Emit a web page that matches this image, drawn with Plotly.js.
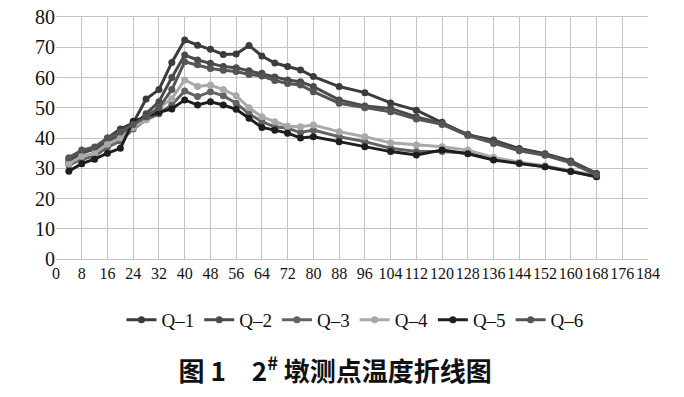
<!DOCTYPE html>
<html>
<head>
<meta charset="utf-8">
<script src="https://cdn.plot.ly/plotly-3.0.1.min.js"></script>
<style>
html,body{margin:0;padding:0;background:#fff;}
#chart{width:684px;height:397px;}
#chart .xtick text, #chart .ytick text, #chart .legendtext { font-family: 'Liberation Serif', 'Times New Roman', serif !important; }
</style>
</head>
<body>
<div id="chart"></div>
<script>
// Time (h)
const hours = [4,8,12,16,20,24,28,32,36,40,44,48,52,56,60,64,68,72,76,80,88,96,104,112,120,128,136,144,152,160,168];
const xTicks = [0,8,16,24,32,40,48,56,64,72,80,88,96,104,112,120,128,136,144,152,160,168,176,184];
const seriesNames = ['Q–1','Q–2','Q–3','Q–4','Q–5','Q–6'];

const q1 = [32.0,35.0,36.5,40.0,43.0,45.0,52.9,56.0,65.0,72.4,70.7,69.3,67.6,67.8,70.6,67.1,64.8,63.6,62.5,60.3,57.0,55.0,51.6,49.2,45.2,41.0,39.3,36.5,34.8,32.4,28.3];
const q2 = [33.0,35.5,36.0,39.0,41.0,44.0,48.0,52.0,60.0,67.4,65.8,64.7,63.6,63.2,62.2,61.4,60.2,59.2,58.6,57.0,52.6,50.6,49.8,47.0,44.8,41.2,38.8,36.2,34.5,32.2,28.2];
const q3 = [31.0,33.0,34.0,37.0,39.0,43.0,46.0,48.0,51.0,55.5,53.7,55.3,54.0,51.5,48.0,45.4,43.7,43.2,41.8,42.6,40.4,38.8,36.6,35.5,35.5,35.0,33.0,31.8,30.5,29.0,27.3];
const q4 = [31.5,34.0,35.0,38.0,40.0,43.5,46.0,50.0,53.0,59.2,57.0,57.5,56.0,54.0,50.0,47.0,45.4,43.9,43.7,44.3,42.1,40.4,38.4,37.7,37.1,36.0,33.6,32.0,30.8,29.2,27.5];
const q5 = [29.0,31.5,33.0,35.0,36.6,45.5,47.0,48.5,49.6,52.6,50.9,52.0,50.9,49.5,46.5,43.5,42.6,41.6,40.0,40.4,38.8,37.1,35.5,34.4,36.0,34.8,32.7,31.6,30.5,28.9,27.2];
const q6 = [33.5,36.0,37.0,40.0,42.0,44.5,47.0,50.0,56.0,65.2,64.2,63.0,62.4,62.0,61.0,60.5,59.0,58.0,57.5,55.3,51.5,50.0,48.7,46.3,44.5,40.8,38.2,35.8,34.3,31.8,27.8];

const seriesValues = [q1,q2,q3,q4,q5,q6];
const seriesColors = ['#3b3b3b','#4a4a4a','#636363','#a9a9a9','#1e1e1e','#555555'];

const SERIF = 'Liberation Serif';

const traces = seriesValues.map((v,i)=>({
  type:'scatter', mode:'lines+markers',
  x: hours, y: v, name: seriesNames[i],
  line:{color:seriesColors[i], width:3},
  marker:{color:seriesColors[i], size:7}
}));
const layout = {
  width:684, height:397,
  margin:{l:56, r:36, t:17, b:138},
  font:{family:SERIF, color:'#111'},
  legend:{orientation:'h', x:0.505, xanchor:'center', y:-0.252, yanchor:'middle',
          font:{family:SERIF, size:19, color:'#111'}},
  xaxis:{range:[0,184], tickmode:'array', tickvals:xTicks, ticktext:xTicks.map(String), tickangle:0,
         showline:true, mirror:true, linecolor:'#c4c4c4', gridcolor:'#c4c4c4', zeroline:false,
         ticks:'', tickfont:{family:SERIF, size:16, color:'#111'}},
  yaxis:{range:[0,80], dtick:10, ticks:'', gridcolor:'#c4c4c4', zeroline:false,
         tickfont:{family:SERIF, size:20, color:'#111'}},
  title:{text:'图 1　2<sup>#</sup> 墩测点温度折线图', x:0.49, xanchor:'center', y:0.063, yanchor:'middle',
         font:{family:'Noto Sans CJK SC', size:26, weight:700, color:'#111'}}
};
Plotly.newPlot('chart', traces, layout, {displayModeBar:false, staticPlot:true});
</script>
</body>
</html>
